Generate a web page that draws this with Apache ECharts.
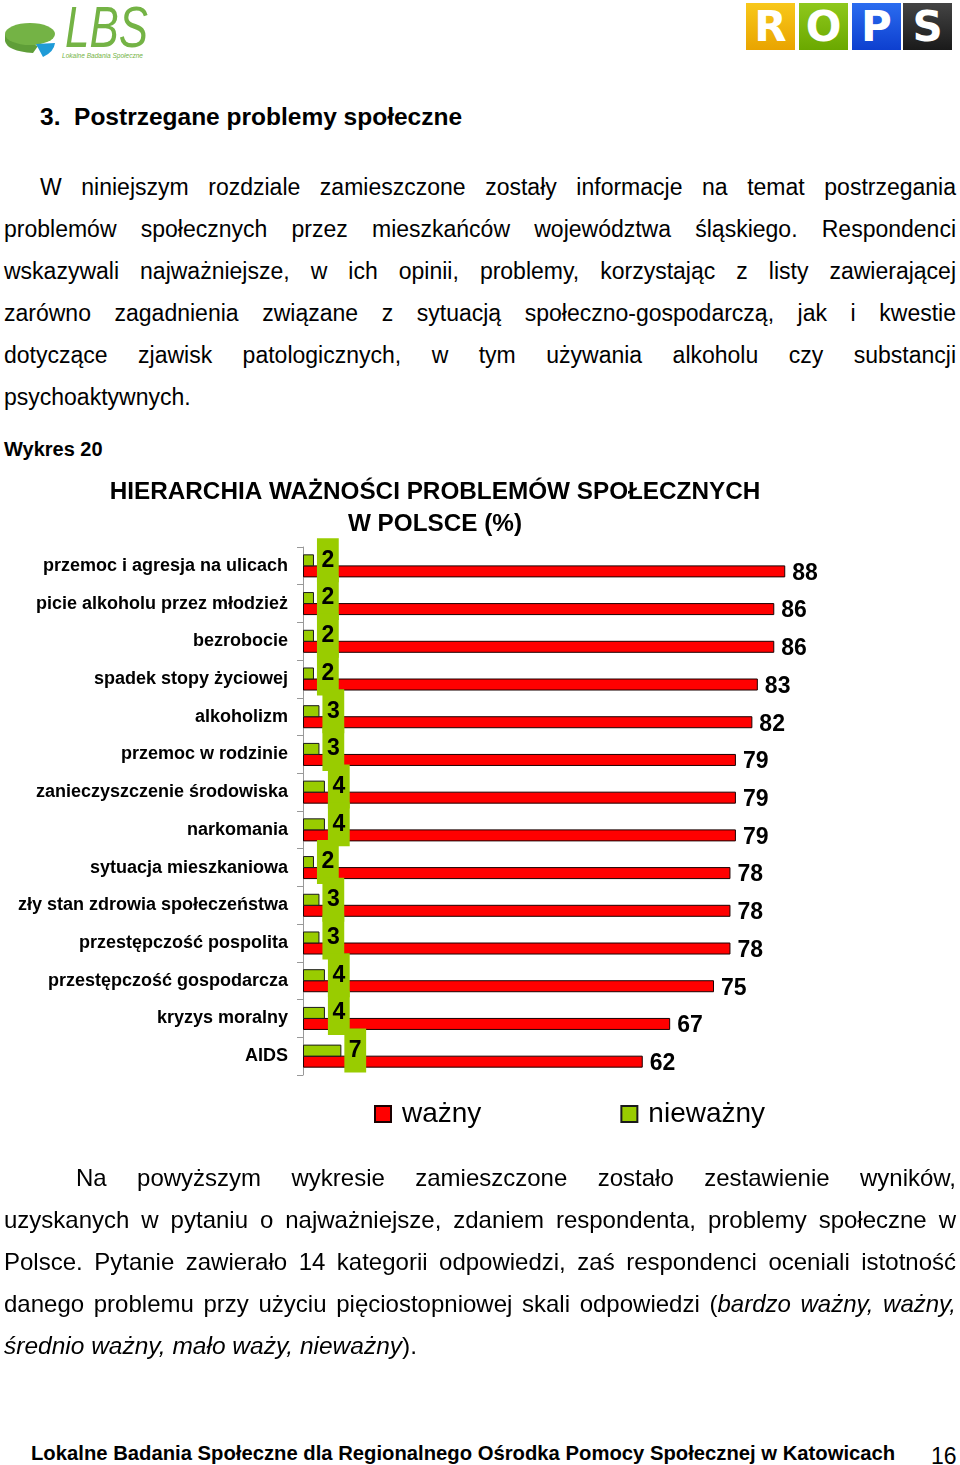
<!DOCTYPE html>
<html>
<head>
<meta charset="utf-8">
<script src="https://cdn.jsdelivr.net/npm/echarts@6/dist/echarts.min.js"></script>
<style>
  html, body { margin: 0; padding: 0; background: #fff; }
  #page { position: relative; width: 960px; height: 1465px; overflow: hidden; font-family: "Liberation Sans", Arial, sans-serif; color: #000; }
  .abs { position: absolute; }
  .ln { position: absolute; height: 42px; line-height: 42px; text-align: justify; text-align-last: justify; }
  .ln.last { text-align: left; text-align-last: left; }
  .p1 { font-size: 23px; }
  .p2 { font-size: 24px; }
  .rops { position: absolute; top: 3px; width: 49px; height: 47px; color: #fff; font-weight: bold; font-size: 42px; line-height: 47px; text-align: center; font-family: "DejaVu Sans", sans-serif; }
  #chart { position: absolute; left: 0; top: 460px; width: 960px; height: 700px; }
</style>
</head>
<body>
<div id="page">
  <!-- LBS logo -->
  <svg class="abs" style="left:0;top:0" width="160" height="66" viewBox="0 0 160 66">
    <path d="M5 34 L5 41 Q7 51 33 53 L38 46 Z" fill="#5f9e38"/>
    <ellipse cx="30" cy="34" rx="25" ry="11" fill="#74b345"/>
    <path d="M36 44 L55 43 Q54 52 43 57 Z" fill="#1f9bd7"/>
    <text x="65" y="47" font-family="Liberation Sans, sans-serif" font-style="italic" font-size="58" fill="#74b345" textLength="83" lengthAdjust="spacingAndGlyphs">LBS</text>
    <text x="62" y="58" font-family="Liberation Sans, sans-serif" font-style="italic" font-size="7.5" fill="#74b345" textLength="81" lengthAdjust="spacingAndGlyphs">Lokalne Badania Społeczne</text>
  </svg>
  <!-- ROPS logo -->
  <div class="rops" style="left:746px;background:linear-gradient(#f8c81a,#e9a400);">R</div>
  <div class="rops" style="left:799px;background:linear-gradient(#8fc81c,#6aa800);">O</div>
  <div class="rops" style="left:852px;background:linear-gradient(#2b6cf0,#0d3fcf);">P</div>
  <div class="rops" style="left:903px;background:linear-gradient(#444,#1a1a1a);">S</div>

  <div class="abs" style="left:40px;top:102px;font-size:24.5px;font-weight:bold;line-height:30px;">3.&nbsp;&nbsp;Postrzegane problemy społeczne</div>

  <div class="ln p1" style="left:40px;width:916px;top:166px;">W niniejszym rozdziale zamieszczone zostały informacje na temat postrzegania</div>
  <div class="ln p1" style="left:4px;width:952px;top:208px;">problemów społecznych przez mieszkańców województwa śląskiego. Respondenci</div>
  <div class="ln p1" style="left:4px;width:952px;top:250px;">wskazywali najważniejsze, w ich opinii, problemy, korzystając z listy zawierającej</div>
  <div class="ln p1" style="left:4px;width:952px;top:292px;">zarówno zagadnienia związane z sytuacją społeczno-gospodarczą, jak i kwestie</div>
  <div class="ln p1" style="left:4px;width:952px;top:334px;">dotyczące zjawisk patologicznych, w tym używania alkoholu czy substancji</div>
  <div class="ln p1 last" style="left:4px;width:952px;top:376px;">psychoaktywnych.</div>

  <div class="abs" style="left:4px;top:436px;font-size:20px;font-weight:bold;line-height:26px;">Wykres 20</div>

  <div id="chart"></div>

  <div class="ln p2" style="left:76px;width:880px;top:1157px;">Na powyższym wykresie zamieszczone zostało zestawienie wyników,</div>
  <div class="ln p2" style="left:4px;width:952px;top:1199px;">uzyskanych w pytaniu o najważniejsze, zdaniem respondenta, problemy społeczne w</div>
  <div class="ln p2" style="left:4px;width:952px;top:1241px;">Polsce. Pytanie zawierało 14 kategorii odpowiedzi, zaś respondenci oceniali istotność</div>
  <div class="ln p2" style="left:4px;width:952px;top:1283px;">danego problemu przy użyciu pięciostopniowej skali odpowiedzi (<i>bardzo ważny, ważny,</i></div>
  <div class="ln p2 last" style="left:4px;width:952px;top:1325px;font-size:24.5px;"><i>średnio ważny, mało waży, nieważny</i>).</div>

  <div class="abs" style="left:31px;top:1440px;font-size:20.25px;font-weight:bold;line-height:26px;white-space:nowrap;">Lokalne Badania Społeczne dla Regionalnego Ośrodka Pomocy Społecznej w Katowicach</div>
  <div class="abs" style="left:931px;top:1441px;font-size:23px;line-height:30px;">16</div>
</div>
<script>
const categories = [
  'przemoc i agresja na ulicach',
  'picie alkoholu przez młodzież',
  'bezrobocie',
  'spadek stopy życiowej',
  'alkoholizm',
  'przemoc w rodzinie',
  'zanieczyszczenie środowiska',
  'narkomania',
  'sytuacja mieszkaniowa',
  'zły stan zdrowia społeczeństwa',
  'przestępczość pospolita',
  'przestępczość gospodarcza',
  'kryzys moralny',
  'AIDS'
];
const wazny = [88, 86, 86, 83, 82, 79, 79, 79, 78, 78, 78, 75, 67, 62];
const niewazny = [2, 2, 2, 2, 3, 3, 4, 4, 2, 3, 3, 4, 4, 7];
const seriesNames = ['ważny', 'nieważny'];

const FONT = '"Liberation Sans", Arial, sans-serif';
const chart = echarts.init(document.getElementById('chart'), null, { renderer: 'canvas' });
chart.setOption({
  animation: false,
  textStyle: { fontFamily: FONT },
  title: {
    text: 'HIERARCHIA WAŻNOŚCI PROBLEMÓW SPOŁECZNYCH\nW POLSCE (%)',
    left: 430, top: 11, textAlign: 'center',
    textStyle: { fontFamily: FONT, fontSize: 24.3, fontWeight: 'bold', color: '#000', lineHeight: 32 }
  },
  legend: {
    data: seriesNames,
    icon: 'rect',
    left: 369, top: 634,
    itemWidth: 16, itemHeight: 16, itemGap: 139,
    textStyle: { fontFamily: FONT, fontSize: 28, color: '#000', lineHeight: 30, padding: [0, 0, 0, 6] }
  },
  grid: { left: 303, top: 87, width: 548, height: 528, containLabel: false },
  xAxis: {
    type: 'value', min: 0, max: 100,
    show: false,
    splitLine: { show: false }
  },
  yAxis: {
    type: 'category', data: categories, inverse: true,
    axisLine: { show: true, lineStyle: { color: '#999', width: 1 } },
    axisTick: { show: true, length: 6, lineStyle: { color: '#999' } },
    axisLabel: { fontFamily: FONT, fontSize: 18, fontWeight: 'bold', color: '#000', margin: 15 }
  },
  series: [
    {
      name: seriesNames[1], type: 'bar', data: niewazny,
      barWidth: 12, barGap: '-8%',
      itemStyle: { color: '#99cc00', borderColor: '#1a1a1a', borderWidth: 1 },
      label: { show: true, position: 'right', distance: 3,
        fontFamily: FONT, fontSize: 23, fontWeight: 'bold', color: '#000',
        backgroundColor: '#99cc00', padding: [11, 4.5, 11, 4.5], lineHeight: 22 },
      z: 3
    },
    {
      name: seriesNames[0], type: 'bar', data: wazny,
      barWidth: 12, barGap: '-8%',
      itemStyle: { color: '#ff0000', borderColor: '#1a0000', borderWidth: 1 },
      label: { show: true, position: 'right', distance: 7, offset: [0, 2],
        fontFamily: FONT, fontSize: 23, fontWeight: 'bold', color: '#000' },
      z: 2
    }
  ]
});
</script>
</body>
</html>
